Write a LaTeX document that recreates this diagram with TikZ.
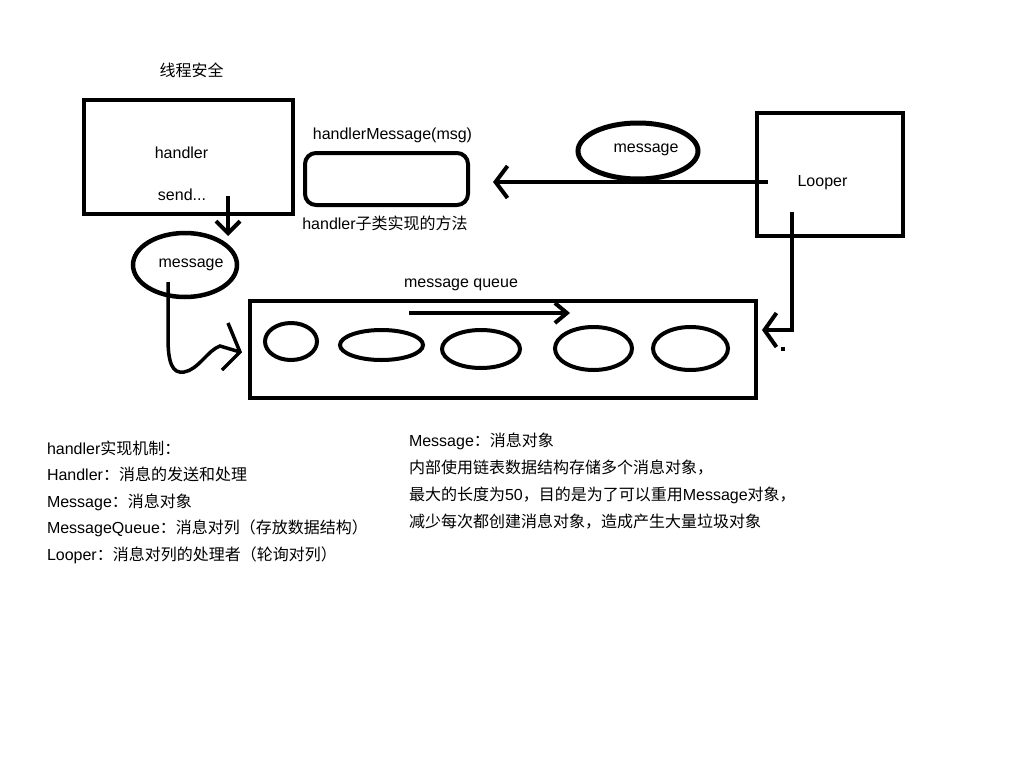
\documentclass[tikz,border=0pt]{standalone}
\usepackage{fontspec}
\setmainfont{Liberation Sans}
\newfontfamily\cjk{Noto Sans CJK SC}
\usetikzlibrary{arrows.meta,shapes.geometric}
\newcommand\zh[1]{{\cjk #1}}
\begin{document}
\begin{tikzpicture}[x=1pt,y=-1pt,
  every node/.style={font=\fontsize{16}{19}\selectfont, inner sep=0pt, outer sep=0pt},
  txt/.style={anchor=base},
  ltxt/.style={anchor=base west},
  box/.style={draw, line width=4pt, rectangle},
  oval/.style={draw, ellipse, line width=4pt},
  conn/.style={line width=4pt},
  arr/.style={conn, -{Straight Barb[length=12pt,width=#1]}},
  arr/.default=26pt]
\useasboundingbox[fill=white] (0,0) rectangle (1024,768);

% boxes
\node[box, minimum width=209pt, minimum height=114pt] (hbox) at (188.5,157) {};
\node[box, minimum width=146pt, minimum height=123pt] (lbox) at (830,174.5) {};
\node[box, minimum width=506pt, minimum height=97pt] (qbox) at (503,349) {};
\node[box, rounded corners=11pt, minimum width=163pt, minimum height=52pt] (hmbox) at (386.5,179) {};

% ellipses
\node[oval, line width=4.5pt, minimum width=104pt, minimum height=64pt] (msg1) at (185,265) {};
\node[oval, line width=5pt, minimum width=120pt, minimum height=56pt] (msg2) at (638,151) {};
\node[oval, minimum width=52pt, minimum height=37pt] (q1) at (291,341.5) {};
\node[oval, minimum width=83pt, minimum height=30pt] (q2) at (381.5,345) {};
\node[oval, minimum width=78pt, minimum height=38pt] (q3) at (481,349) {};
\node[oval, minimum width=77pt, minimum height=43pt] (q4) at (593.5,348.5) {};
\node[oval, minimum width=75pt, minimum height=43pt] (q5) at (690.5,348.5) {};

% texts
\node[txt] (tsafe) at (191.5,77) {\zh{线程安全}};
\node[txt] (thandler) at (181.5,158) {handler};
\node[txt] (tsend) at (182,200) {send...};
\node[txt] (tmsg1) at (191,267) {message};
\node[txt] (tmsg2) at (646,152) {message};
\node[txt] (tlooper) at (822.5,186) {Looper};
\node[txt] (thm) at (392.5,139) {handlerMessage(msg)};
\node[txt] (thmsub) at (385,229) {handler\zh{子类实现的方法}};
\node[txt] (tqueue) at (461,287) {message queue};

\node[ltxt] (l1) at (47,454) {handler\zh{实现机制：}};
\node[ltxt] (l2) at (47,480) {Handler\zh{：消息的发送和处理}};
\node[ltxt] (l3) at (47,507) {Message\zh{：消息对象}};
\node[ltxt] (l4) at (47,533) {MessageQueue\zh{：消息对列（存放数据结构）}};
\node[ltxt] (l5) at (47,560) {Looper\zh{：消息对列的处理者（轮询对列）}};

\node[ltxt] (r1) at (409,446) {Message\zh{：消息对象}};
\node[ltxt] (r2) at (409,473) {\zh{内部使用链表数据结构存储多个消息对象，}};
\node[ltxt] (r3) at (409,500) {\zh{最大的长度为}50\zh{，目的是为了可以重用}Message\zh{对象，}};
\node[ltxt] (r4) at (409,527) {\zh{减少每次都创建消息对象，造成产生大量垃圾对象}};

% connector coordinates
\coordinate (sendfrom) at (228,196);
\coordinate (sendto) at (228,236);
\coordinate (lfrom) at (768,182);
\coordinate (lto) at (493,182);
\coordinate (ldown) at (792,212);
\coordinate (qin) at (762,330);
\coordinate (qafrom) at (409,313);
\coordinate (qato) at (570,313);
\coordinate (wfrom) at (168,282);
\coordinate (wtip) at (240,352);
\coordinate (warm1) at (228,323);
\coordinate (warm2) at (222,370);

% connectors
\draw[arr=24pt] (sendfrom) -- (sendto);
\draw[arr=32pt] (lfrom) -- (lto);
\draw[arr=34pt] (ldown) |- (qin);
\draw[arr=20pt] (qafrom) -- (qato);
\draw[conn, line width=3.5pt] (wfrom) -- (168,338) .. controls (168,362) and (172,374) .. (184,372)
   .. controls (198,370) and (208,350) .. (220,346) -- (wtip);
\draw[conn, line width=3.5pt] (warm1) -- (wtip) -- (warm2);
\fill (781,347) rectangle (785,351);
\end{tikzpicture}
\end{document}
